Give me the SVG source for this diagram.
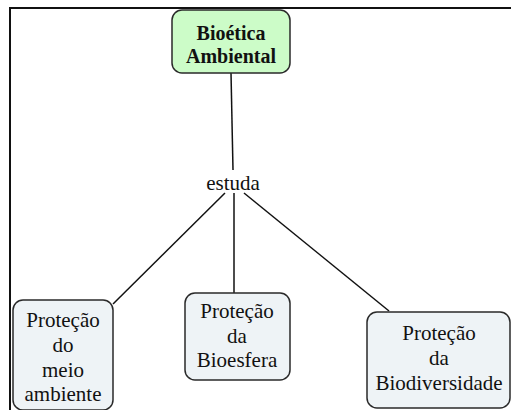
<svg xmlns="http://www.w3.org/2000/svg" width="511" height="410" viewBox="0 0 511 410">
<style>
.t{font-size:21px;fill:#111;text-anchor:middle}
.b{font-weight:bold;font-size:20px}
.box{fill:#eef3f6;stroke:#2a2a2a;stroke-width:1.5}
.top{fill:#ccfcc8;stroke:#2a2a2a;stroke-width:1.5}
.c{stroke:#111;stroke-width:1.5;fill:none}
</style>
<rect width="511" height="410" fill="#fff"/>
<rect x="10" y="8" width="520" height="420" fill="none" stroke="#111" stroke-width="2"/>
<g id="connectors">
<line class="c" x1="231" y1="73" x2="233" y2="170"/>
<line class="c" x1="225" y1="193" x2="113" y2="304"/>
<line class="c" x1="234" y1="193" x2="234" y2="293"/>
<line class="c" x1="244" y1="193" x2="389" y2="311"/>
</g>
<g font-family="Liberation Serif, serif">
<g id="n-bioetica">
<rect class="top" x="172" y="10" width="118" height="63" rx="10"/>
<text class="t b" x="231" y="40">Bioética</text>
<text class="t b" x="231" y="63">Ambiental</text>
</g>
<g id="l-estuda">
<text class="t" x="233" y="190">estuda</text>
</g>
<g id="n-meio">
<rect class="box" x="13" y="300" width="100" height="110" rx="10"/>
<text class="t" x="63" y="327">Proteção</text>
<text class="t" x="63" y="352">do</text>
<text class="t" x="63" y="377">meio</text>
<text class="t" x="63" y="401">ambiente</text>
</g>
<g id="n-bioesfera">
<rect class="box" x="185" y="293" width="105" height="87" rx="10"/>
<text class="t" x="237" y="318">Proteção</text>
<text class="t" x="237" y="343">da</text>
<text class="t" x="237" y="367">Bioesfera</text>
</g>
<g id="n-biodiversidade">
<rect class="box" x="367" y="312" width="143" height="96" rx="10"/>
<text class="t" x="439" y="340">Proteção</text>
<text class="t" x="439" y="365">da</text>
<text class="t" x="439" y="390">Biodiversidade</text>
</g>
</g>
</svg>
